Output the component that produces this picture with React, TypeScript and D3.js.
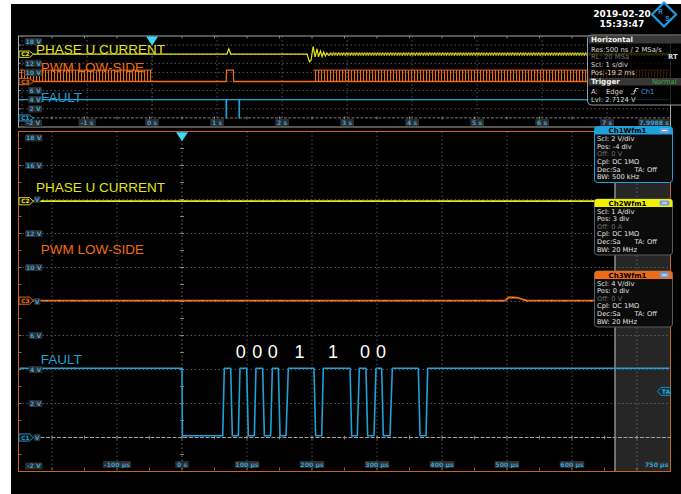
import React from "react";
import * as d3 from "d3";

const W = 681;
const H = 494;

// ---------- main (zoomed) panel data ----------
const mainTimeGrid = [-200, -100, 0, 100, 200, 300, 400, 500, 600, 700];
const mainTimeTickVals = [-100, 0, 100, 200, 300, 400, 500, 600];
const mainTimeTickLabels = ["-100 µs", "0 s", "100 µs", "200 µs", "300 µs", "400 µs", "500 µs", "600 µs"];
const mainVoltGrid = [0, 2, 4, 6, 8, 10, 12, 14, 16];
const mainVoltTickVals = [18, 16, 12, 10, 6, 4, 2, -2];
const mainVoltTickLabels = ["18 V", "16 V", "12 V", "10 V", "6 V", "4 V", "2 V", "-2 V"];
const mainHiddenVoltVals = [14, 8, 0];

const faultT = [-250, 0, 0.6, 62.6, 65.1, 74.9, 77.4, 86.7, 89.2, 99.5, 102, 111.3, 113.8, 124.1, 126.7, 136.4, 139, 148.2, 150.8, 160, 163.6, 203, 205.6, 214.9, 217.4, 258.5, 261, 269.7, 272.8, 283, 285.6, 295.4, 298.5, 307.2, 309.7, 320, 323.6, 363.6, 366.2, 375.4, 378, 750];
const faultV = [4.07, 4.07, 0.1, 0.1, 4.07, 4.07, 0.1, 0.1, 4.07, 4.07, 0.1, 0.1, 4.07, 4.07, 0.1, 0.1, 4.07, 4.07, 0.1, 0.1, 4.07, 4.07, 0.1, 0.1, 4.07, 4.07, 0.1, 0.1, 4.07, 4.07, 0.1, 0.1, 4.07, 4.07, 0.1, 0.1, 4.07, 4.07, 0.1, 0.1, 4.07, 4.07];
const currentT = [-250, 750];
const currentV = [13.9, 13.9];
const pwmT = [-250, 497, 503, 516, 530, 750];
const pwmV = [8.05, 8.05, 8.25, 8.22, 8.05, 8.05];
const bitLabels = ["0", "0", "0", "1", "1", "0", "0"];
const bitT = [90.3, 115.7, 139.7, 180.8, 232.3, 281.5, 306];
const bitV = 4.66;
const triggerLevel = 2.7124;

// ---------- overview (top) panel data ----------
const topTimeGrid = [-2, -1, 0, 1, 2, 3, 4, 5, 6, 7];
const topTimeTickVals = [-1, 0, 1, 2, 3, 4, 5, 6, 7];
const topTimeTickLabels = ["-1 s", "0 s", "1 s", "2 s", "3 s", "4 s", "5 s", "6 s", "7 s"];
const topVoltGrid = [0, 2, 4, 6, 8, 10, 12, 14, 16];
const topVoltTickVals = [18, 12, 10, 6, 4, 2, -2];
const topVoltTickLabels = ["18 V", "12 V", "10 V", "6 V", "4 V", "2 V", "-2 V"];

const topCurrentT = [-2.04, 1.15, 1.18, 1.21, 2.385, 2.42, 2.446, 2.477, 2.508, 2.538, 2.56, 2.59, 2.615, 2.64, 2.666, 2.69, 2.72];
const topCurrentV = [14, 14, 15.2, 14, 14, 12.3, 12.7, 15.7, 13.4, 15.2, 13.4, 14.7, 13.5, 14.5, 13.6, 14.3, 13.7];
const topRingStart = 2.72;
const topRingEnd = 7.96;
const topRingLow = 13.6;
const topRingHigh = 14.4;
const topPwmT = [-2.04, 1.14, 1.145, 1.25, 1.255, 7.96];
const topPwmV = [8, 8, 10.5, 10.5, 8, 8];
const topPwmBurstStart = [-2.04, 2.48];
const topPwmBurstEnd = [0, 7.96];
const topPwmLow = 8;
const topPwmHigh = 10.5;
const topFaultT = [-2.04, 1.137, 1.139, 1.145, 1.147, 1.336, 1.338, 1.344, 1.346, 7.96];
const topFaultV = [4, 4, 0, 0, 4, 4, 0, 0, 4, 4];

// ---------- info boxes ----------
const ch1Lines = ["Scl: 2 V/div", "Pos: -4 div", "Off: 0 V", "Cpl: DC 1MΩ", "Dec:Sa", "BW: 500 kHz"];
const ch2Lines = ["Scl: 1 A/div", "Pos: 3 div", "Off: 0 A", "Cpl: DC 1MΩ", "Dec:Sa", "BW: 20 MHz"];
const ch3Lines = ["Scl: 4 V/div", "Pos: 0 div", "Off: 0 V", "Cpl: DC 1MΩ", "Dec:Sa", "BW: 20 MHz"];

const YELLOW = "#e4e41c";
const ORANGE = "#f06c14";
const CYAN = "#1ea2d8";
const LABELCYAN = "#3a9fd2";
const GRID = "#6a6a6a";

const xM = d3.scaleLinear().domain([-250, 750]).range([19.5, 669.5]);
const yM = d3.scaleLinear().domain([-2, 18]).range([471.5, 131.5]);
const xT = d3.scaleLinear().domain([-2.04, 7.96]).range([19.5, 669.5]);
const yT = d3.scaleLinear().domain([-2, 18]).range([127, 36]);

const zip = (a: number[], b: number[]) => a.map((t, i) => [t, b[i]] as [number, number]);
const lineM = d3.line<[number, number]>().x((d) => xM(d[0])).y((d) => yM(d[1]));
const lineT = d3.line<[number, number]>().x((d) => xT(d[0])).y((d) => yT(d[1]));

const SANS = "'Liberation Sans', Arial, sans-serif";
const UI = "'DejaVu Sans', Verdana, sans-serif";

function TagLabel({ cx, cy, text, anchor }: { cx: number; cy: number; text: string; anchor: "end" | "middle" }) {
  const fs = 6.2;
  const w = text.length * fs * 0.58 + 3;
  const x0 = anchor === "end" ? cx - w : cx - w / 2;
  return (
    <g>
      <rect x={x0} y={cy - 3.6} width={w} height={7.2} fill="#2c2c2c" rx={0.8} />
      <text x={x0 + w / 2} y={cy + 2.2} fontSize={fs} fontFamily={UI} fill={LABELCYAN} textAnchor="middle" fontWeight="bold">
        {text}
      </text>
    </g>
  );
}

function ChMarker({ y, color, text, h = 3.6 }: { y: number; color: string; text: string; h?: number }) {
  const pts = [
    [19, y - h],
    [29.5, y - h],
    [33.5, y],
    [29.5, y + h],
    [19, y + h],
  ]
    .map((p) => p.join(","))
    .join(" ");
  return (
    <g>
      <polygon points={pts} fill="#111" stroke={color} strokeWidth={0.9} />
      <text x={25.5} y={y + 2.1} fontSize={5.8} fontFamily={UI} fill={color} textAnchor="middle" fontWeight="bold">
        {text}
      </text>
    </g>
  );
}

function ChBox({ y0, color, title, lines, selected }: { y0: number; color: string; title: string; lines: string[]; selected: boolean }) {
  const x0 = 594.5;
  const w = 78;
  const h = 56;
  const base = y0 + 14.6;
  const step = 7.6;
  return (
    <g>
      <rect x={x0} y={y0} width={w} height={h} rx={3} fill="#0b0b0b" stroke={selected ? color : "#5a5a5a"} strokeWidth={1} />
      <path
        d={`M${x0},${y0 + 8} L${x0},${y0 + 3} Q${x0},${y0} ${x0 + 3},${y0} L${x0 + w - 3},${y0} Q${x0 + w},${y0} ${x0 + w},${y0 + 3} L${x0 + w},${y0 + 8} Z`}
        fill={color}
      />
      <text x={x0 + 33} y={y0 + 6.5} fontSize={7} fontFamily={UI} fontWeight="bold" fill="#000" textAnchor="middle">
        {title}
      </text>
      <rect x={x0 + 65} y={y0 + 1.5} width={10} height={5} rx={1.5} fill="#6d9ee8" />
      <line x1={x0 + 67.5} x2={x0 + 72.5} y1={y0 + 4} y2={y0 + 4} stroke="#fff" strokeWidth={1} />
      {lines.map((l, i) => (
        <text key={i} x={x0 + 2.5} y={base + i * step} fontSize={6.7} fontFamily={UI} fill={i === 2 ? "#6e6e6e" : "#e2e2e2"}>
          {l}
        </text>
      ))}
      <text x={x0 + 40} y={base + 4 * step} fontSize={6.7} fontFamily={UI} fill="#e2e2e2">
        TA: Off
      </text>
    </g>
  );
}

export default function App() {
  const mainL = 18.5, mainR = 670.5, mainTop = 131.5, mainBot = 471.5;
  const topL = 18.5, topR = 670.5, topTop = 36, topBot = 127;
  const halfDivX = 32.5;
  const halfDivYm = 17;
  const halfDivYt = 4.55;

  const borderTicksM: JSX.Element[] = [];
  for (let y = mainBot - halfDivYm; y > mainTop + 1; y -= halfDivYm) {
    borderTicksM.push(<line key={"lm" + y} x1={mainL} x2={mainL + 3} y1={y} y2={y} stroke="#8a8a8a" strokeWidth={0.8} />);
  }
  for (let x = mainL + 1 + halfDivX; x < mainR - 1; x += halfDivX) {
    borderTicksM.push(<line key={"bm" + x} x1={x} x2={x} y1={mainBot - 1} y2={mainBot - 4} stroke="#8a8a8a" strokeWidth={0.8} />);
    borderTicksM.push(<line key={"am" + x} x1={x} x2={x} y1={yM(0) - 2} y2={yM(0) + 2} stroke="#9a9a9a" strokeWidth={0.8} />);
  }
  for (let y = mainBot - halfDivYm; y > mainTop + 1; y -= halfDivYm) {
    borderTicksM.push(<line key={"vm" + y} x1={xM(0) - 2} x2={xM(0) + 2} y1={y} y2={y} stroke="#9a9a9a" strokeWidth={0.8} />);
  }
  const borderTicksT: JSX.Element[] = [];
  for (let x = topL + 1 + halfDivX; x < 586; x += halfDivX) {
    borderTicksT.push(<line key={"tt" + x} x1={x} x2={x} y1={topTop} y2={topTop + 2.5} stroke="#9a9a9a" strokeWidth={0.8} />);
    borderTicksT.push(<line key={"ta" + x} x1={x} x2={x} y1={yT(0) - 1.5} y2={yT(0) + 1.5} stroke="#9a9a9a" strokeWidth={0.8} />);
  }
  for (let y = topBot - halfDivYt * 2; y > topTop + 1; y -= halfDivYt * 2) {
    borderTicksT.push(<line key={"tl" + y} x1={topL} x2={topL + 2.5} y1={y} y2={y} stroke="#9a9a9a" strokeWidth={0.8} />);
  }

  const trigY = yM(triggerLevel);

  return (
    <div style={{ position: "absolute", left: 0, top: 0, width: W, height: H }}>
      <svg width={W} height={H} viewBox={`0 0 ${W} ${H}`} style={{ display: "block" }}>
        <defs>
          <clipPath id="clipMain">
            <rect x={mainL} y={mainTop} width={mainR - mainL} height={mainBot - mainTop} />
          </clipPath>
          <clipPath id="clipTop">
            <rect x={topL} y={topTop} width={topR - topL} height={topBot - topTop} />
          </clipPath>
          <pattern id="pwmPat" width={3} height={10} patternUnits="userSpaceOnUse">
            <rect x={0} y={0} width={1.1} height={10} fill={ORANGE} />
          </pattern>
          <pattern id="ringPat" width={2.6} height={4} patternUnits="userSpaceOnUse">
            <rect x={0} y={0} width={1.3} height={2.4} fill={YELLOW} />
            <rect x={1.3} y={1.4} width={1.3} height={2.4} fill={YELLOW} />
          </pattern>
        </defs>

        <rect x={0} y={0} width={W} height={H} fill="#fff" />
        <rect x={11} y={4} width={W - 11} height={H - 4} fill="#000" />

        {/* ============ TOP PANEL ============ */}
        <g>
          {topTimeGrid.map((t) => (
            <line key={"tg" + t} x1={xT(t)} x2={xT(t)} y1={topTop} y2={topBot} stroke={t === 0 ? "#8a8a8a" : GRID} strokeWidth={0.8} strokeDasharray="1.5 2.5" />
          ))}
          {topVoltGrid.map((v) => (
            <line key={"tv" + v} x1={topL} x2={topR} y1={yT(v)} y2={yT(v)} stroke={v === 0 ? "#9a9a9a" : GRID} strokeWidth={0.8} strokeDasharray={v === 0 ? "3 1.5" : "1.5 2.5"} />
          ))}
          {borderTicksT}
          <rect x={topL} y={topTop} width={topR - topL} height={topBot - topTop} fill="none" stroke="#a8a8a8" strokeWidth={1} />

          <g clipPath="url(#clipTop)">
            {topPwmBurstStart.map((s, i) => (
              <rect key={"pb" + i} x={xT(s)} y={yT(topPwmHigh)} width={xT(topPwmBurstEnd[i]) - xT(s)} height={yT(topPwmLow) - yT(topPwmHigh)} fill="url(#pwmPat)" />
            ))}
            {topPwmBurstStart.map((s, i) => (
              <line key={"pbt" + i} x1={xT(s)} x2={xT(topPwmBurstEnd[i])} y1={yT(topPwmHigh)} y2={yT(topPwmHigh)} stroke={ORANGE} strokeWidth={1} />
            ))}
            <path d={lineT(zip(topPwmT, topPwmV)) || ""} fill="none" stroke={ORANGE} strokeWidth={1.3} />
            <path d={lineT(zip(topCurrentT, topCurrentV)) || ""} fill="none" stroke={YELLOW} strokeWidth={1.2} />
            <rect x={xT(topRingStart)} y={yT(topRingHigh)} width={xT(topRingEnd) - xT(topRingStart)} height={yT(topRingLow) - yT(topRingHigh)} fill="url(#ringPat)" />
            <path d={lineT(zip(topFaultT, topFaultV)) || ""} fill="none" stroke={CYAN} strokeWidth={1.2} />
          </g>

          {topVoltTickVals.map((v, i) => {
            let cy = yT(v);
            if (v === 18) cy += 5.7;
            if (v === -2) cy -= 3.8;
            return <TagLabel key={"tvl" + v} cx={42} cy={cy} text={topVoltTickLabels[i]} anchor="end" />;
          })}
          {topTimeTickVals.map((t, i) => (
            <TagLabel key={"ttl" + t} cx={xT(t)} cy={122.5} text={topTimeTickLabels[i]} anchor="middle" />
          ))}
          <TagLabel cx={670} cy={122.5} text="7.9988 s" anchor="end" />

          <ChMarker y={yT(14)} color={YELLOW} text="C2" h={3.2} />
          <ChMarker y={yT(8)} color={ORANGE} text="C3" h={3.2} />
          <ChMarker y={yT(0)} color={CYAN} text="C1" h={3} />

          <polygon points={`${xT(0) - 6},${topTop + 0.5} ${xT(0) + 6},${topTop + 0.5} ${xT(0)},${topTop + 9.5}`} fill="#3cdaf0" />

          <text x={36} y={54.3} fontSize={13.5} fontFamily={SANS} fill={YELLOW}>PHASE U CURRENT</text>
          <text x={40.7} y={72} fontSize={13.5} fontFamily={SANS} fill={ORANGE}>PWM LOW-SIDE</text>
          <text x={41} y={102.3} fontSize={13.5} fontFamily={SANS} fill={CYAN}>FAULT</text>
        </g>

        {/* ============ MAIN PANEL ============ */}
        <g>
          <rect x={615} y={mainTop} width={mainR - 615} height={mainBot - mainTop} fill="#262626" />
          {mainTimeGrid.map((t) => (
            <line key={"mg" + t} x1={xM(t)} x2={xM(t)} y1={mainTop} y2={mainBot} stroke={t === 0 ? "#8a8a8a" : GRID} strokeWidth={0.8} strokeDasharray="1.5 2.5" />
          ))}
          {mainVoltGrid.map((v) => (
            <line key={"mv" + v} x1={mainL} x2={mainR} y1={yM(v)} y2={yM(v)} stroke={v === 0 ? "#a0a0a0" : GRID} strokeWidth={v === 0 ? 1 : 0.8} strokeDasharray={v === 0 ? "4 1.5" : "1.5 2.5"} />
          ))}
          {borderTicksM}
          <line x1={615} x2={615} y1={mainTop} y2={mainBot} stroke="#8e8e8e" strokeWidth={1.5} />
          <rect x={mainL} y={mainTop} width={mainR - mainL} height={mainBot - mainTop} fill="none" stroke="#c8641e" strokeWidth={1} />

          <g clipPath="url(#clipMain)">
            <path d={lineM(zip(currentT, currentV)) || ""} fill="none" stroke={YELLOW} strokeWidth={1.8} />
            <path d={lineM(zip(currentT, currentV)) || ""} fill="none" stroke="#f6f66a" strokeWidth={1} strokeDasharray="2 9" />
            <path d={lineM(zip(pwmT, pwmV)) || ""} fill="none" stroke={ORANGE} strokeWidth={1.8} />
            <path d={lineM(zip(pwmT, pwmV)) || ""} fill="none" stroke="#ff9a50" strokeWidth={1} strokeDasharray="2 11" />
            <path d={lineM(zip(faultT, faultV)) || ""} fill="none" stroke={CYAN} strokeWidth={1.6} strokeLinejoin="round" />
          </g>

          {mainVoltTickVals.map((v, i) => {
            let cy = yM(v);
            if (v === 18) cy += 6.5;
            if (v === -2) cy -= 5.5;
            return <TagLabel key={"mvl" + v} cx={42.5} cy={cy} text={mainVoltTickLabels[i]} anchor="end" />;
          })}
          {mainHiddenVoltVals.map((v) => (
            <TagLabel key={"mhv" + v} cx={40.5} cy={yM(v)} text="V" anchor="end" />
          ))}
          {mainTimeTickVals.map((t, i) => (
            <TagLabel key={"mtl" + t} cx={xM(t)} cy={464.5} text={mainTimeTickLabels[i]} anchor="middle" />
          ))}
          <TagLabel cx={669} cy={464.5} text="750 µs" anchor="end" />

          <ChMarker y={yM(currentV[0])} color={YELLOW} text="C2" />
          <ChMarker y={yM(pwmV[0])} color={ORANGE} text="C3" />
          <ChMarker y={yM(0)} color={CYAN} text="C1" />

          <polygon points={`${xM(0) - 6},${mainTop + 0.8} ${xM(0) + 6},${mainTop + 0.8} ${xM(0)},${mainTop + 9.8}`} fill="#3cdaf0" />

          <g>
            <polygon points={`657.5,${trigY} 661,${trigY - 4} 670.5,${trigY - 4} 670.5,${trigY + 4} 661,${trigY + 4}`} fill="#0d3440" stroke={CYAN} strokeWidth={0.8} />
            <text x={666} y={trigY + 2.3} fontSize={6.2} fontFamily={UI} fill={LABELCYAN} textAnchor="middle" fontWeight="bold">TA</text>
          </g>

          <text x={36} y={191.5} fontSize={13.5} fontFamily={SANS} fill={YELLOW}>PHASE U CURRENT</text>
          <text x={40.7} y={254.3} fontSize={13.5} fontFamily={SANS} fill={ORANGE}>PWM LOW-SIDE</text>
          <text x={40.7} y={364} fontSize={13.5} fontFamily={SANS} fill={CYAN}>FAULT</text>

          {bitLabels.map((b, i) => (
            <text key={"bit" + i} x={xM(bitT[i])} y={yM(bitV)} fontSize={18} fontFamily={SANS} fill="#fff" textAnchor="middle">
              {b}
            </text>
          ))}
        </g>

        {/* ============ INFO BOXES ============ */}
        <ChBox y0={126.5} color={CYAN} title="Ch1Wfm1" lines={ch1Lines} selected={true} />
        <ChBox y0={199} color="#f0f000" title="Ch2Wfm1" lines={ch2Lines} selected={false} />
        <ChBox y0={271} color={ORANGE} title="Ch3Wfm1" lines={ch3Lines} selected={false} />

        <g>
          <rect x={587.5} y={35} width={110} height={70} rx={4} fill="rgba(0,0,0,0.78)" stroke="#9a9a9a" strokeWidth={1} />
          <rect x={588.5} y={36} width={93} height={7.5} fill="#383838" />
          <text x={591} y={42.2} fontSize={7.2} fontFamily={UI} fontWeight="bold" fill="#f0f0f0">Horizontal</text>
          <text x={591} y={51.5} fontSize={6.8} fontFamily={UI} fill="#d8d8d8">Res:500 ns / 2 MSa/s</text>
          <text x={591} y={59.2} fontSize={6.8} fontFamily={UI} fill="#6a6a6a">RL: 20 MSa</text>
          <text x={668} y={59.2} fontSize={6.8} fontFamily={UI} fontWeight="bold" fill="#d8d8d8">RT</text>
          <text x={591} y={66.8} fontSize={6.8} fontFamily={UI} fill="#d8d8d8">Scl: 1 s/div</text>
          <text x={591} y={75.2} fontSize={6.8} fontFamily={UI} fill="#d8d8d8">Pos:-19.2 ms</text>
          <rect x={588.5} y={78} width={93} height={7.5} fill="#383838" />
          <text x={591} y={84.2} fontSize={7.2} fontFamily={UI} fontWeight="bold" fill="#f0f0f0">Trigger</text>
          <text x={652} y={84.2} fontSize={6.8} fontFamily={UI} fill="#3cb043">Normal</text>
          <text x={591} y={94.2} fontSize={6.8} fontFamily={UI} fill="#d8d8d8">A:</text>
          <text x={606} y={94.2} fontSize={6.8} fontFamily={UI} fill="#d8d8d8">Edge</text>
          <path d="M631,94 L634,94 L635.5,88.5 L638.5,88.5 M633.5,91.8 L635,90 L636.3,91.8" fill="none" stroke="#d8d8d8" strokeWidth={0.8} />
          <text x={641} y={94.2} fontSize={6.8} fontFamily={UI} fill={LABELCYAN}>Ch1</text>
          <text x={591} y={101.5} fontSize={6.8} fontFamily={UI} fill="#d8d8d8">Lvl: 2.7124 V</text>
        </g>

        {/* date / time and logo */}
        <text x={622} y={16.5} fontSize={9} fontFamily={UI} fontWeight="bold" fill="#fff" textAnchor="middle">2019-02-20</text>
        <text x={622} y={26.5} fontSize={9} fontFamily={UI} fontWeight="bold" fill="#fff" textAnchor="middle">15:33:47</text>
        <g>
          <polygon points="664,2.5 676,14.5 664,26.5 652,14.5" fill="none" stroke="#1e9be0" strokeWidth={2.2} />
          <text x={660.5} y={14} fontSize={6.5} fontFamily={SANS} fontWeight="bold" fill="#1e9be0" textAnchor="middle">R</text>
          <text x={667.5} y={20.5} fontSize={6.5} fontFamily={SANS} fontWeight="bold" fill="#1e9be0" textAnchor="middle">S</text>
        </g>
      </svg>
    </div>
  );
}
